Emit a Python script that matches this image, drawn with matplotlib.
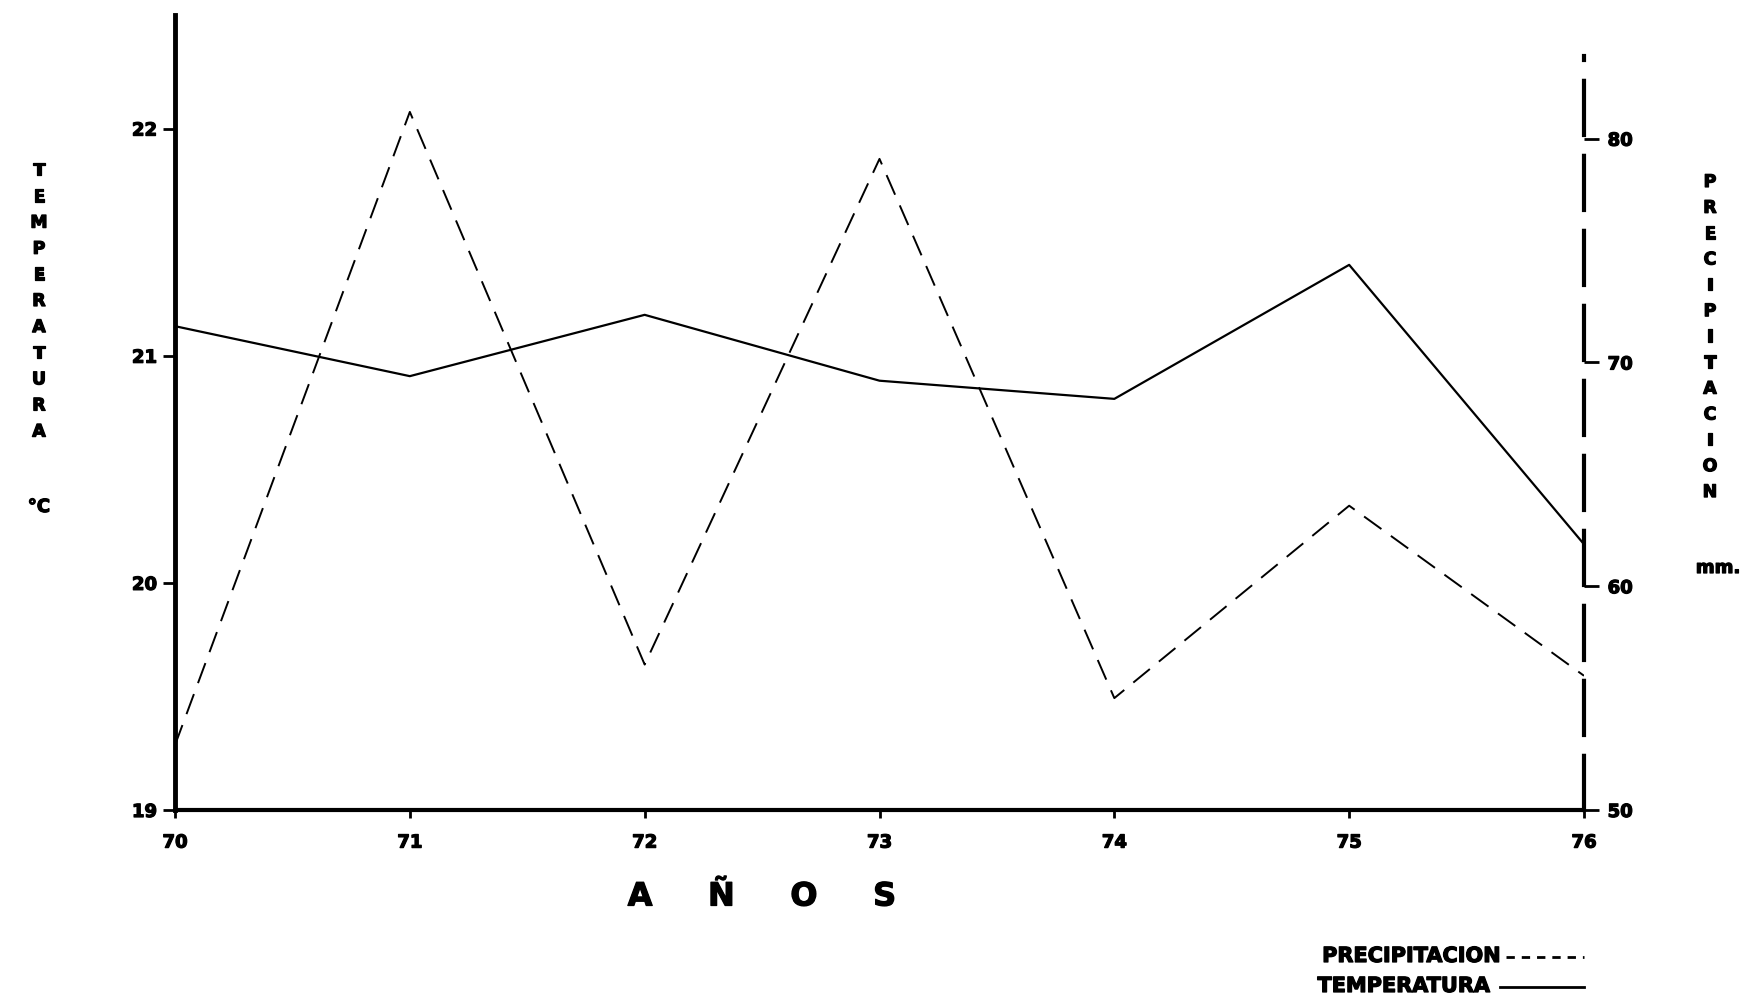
import matplotlib
matplotlib.use("Agg")
import matplotlib.pyplot as plt
import matplotlib.patheffects as pe
from matplotlib.lines import Line2D

# Annual data, 1970-1976
years = [70, 71, 72, 73, 74, 75, 76]
temperatura = [21.13, 20.91, 21.18, 20.89, 20.81, 21.40, 20.17]   # °C
precipitacion = [52.9, 81.2, 56.5, 79.1, 55.0, 63.6, 56.0]       # mm

temp_ticks = [19, 20, 21, 22]
prec_ticks = [50, 60, 70, 80]
year_labels = ["70", "71", "72", "73", "74", "75", "76"]

FONT = "DejaVu Sans"
W, H = 1749, 1003
fig = plt.figure(figsize=(W / 100, H / 100), dpi=100)
fig.patch.set_facecolor("white")

# heavy, slightly blotted lettering
heavy = [pe.withStroke(linewidth=0.9, foreground="black")]


def fx(px):
    return px / W


def fy(py):
    return 1 - py / H


left, right_px, bottom_px, top_px = 175, 1584, 811, 16
ax = fig.add_axes([fx(left), fy(bottom_px), fx(right_px - left), (bottom_px - top_px) / H])
ax2 = ax.twinx()

# Temperature (solid) on the left scale
ax.plot(years, temperatura, color="black", lw=1.6, solid_capstyle="round", zorder=3)
ax.set_xlim(70, 76)
ax.set_ylim(19, 22.5)

# Precipitation (dashed) on the right scale
ax2.plot(years, precipitacion, color="black", lw=1.4, dashes=(11, 6), zorder=3)
ax2.set_ylim(50, 85.53)

for a in (ax, ax2):
    a.patch.set_visible(False)
    a.spines["top"].set_visible(False)

ax.spines["right"].set_visible(False)
ax.spines["left"].set_linewidth(3.5)
ax.spines["bottom"].set_linewidth(3.0)
ax.spines["bottom"].set_capstyle("round")

ax2.spines["left"].set_visible(False)
ax2.spines["bottom"].set_visible(False)
ax2.spines["right"].set_linewidth(3.0)
ax2.spines["right"].set_linestyle((0, (13, 5)))
ax2.spines["right"].set_bounds(50, 83.7)

tick_font = dict(fontfamily=FONT, fontweight="bold", fontsize=13)

ax.set_yticks(temp_ticks)
ax.set_yticklabels([str(t) for t in temp_ticks], **tick_font)
ax.tick_params(axis="y", direction="out", length=9, width=2, pad=4)

ax.set_xticks(years)
ax.set_xticklabels(year_labels, **tick_font)
ax.tick_params(axis="x", direction="out", length=6, width=2, pad=11)

ax2.set_yticks(prec_ticks)
ax2.set_yticklabels([str(t) for t in prec_ticks], **tick_font)
ax2.tick_params(axis="y", direction="out", length=11, width=2, pad=6)

for lab in ax.get_xticklabels() + ax.get_yticklabels() + ax2.get_yticklabels():
    lab.set_path_effects(heavy)

txt = dict(fontfamily=FONT, fontweight="bold", color="black", path_effects=heavy)

# Stacked axis titles
fig.text(fx(39), fy(302), "\n".join("TEMPERATURA"), ha="center", va="center",
         fontsize=12.5, linespacing=1.58, **txt)
fig.text(fx(39), fy(508), "°C", ha="center", va="center", fontsize=13, **txt)
fig.text(fx(1710), fy(338), "\n".join("PRECIPITACION"), ha="center", va="center",
         fontsize=12.5, linespacing=1.56, **txt)
fig.text(fx(1718), fy(569), "mm.", ha="center", va="center", fontsize=13, **txt)

# X-axis title
fig.text(fx(762), fy(898), "A     Ñ     O     S", ha="center", va="center", fontsize=23, **txt)

# Legend
fig.text(fx(1500), fy(957), "PRECIPITACION", ha="right", va="center", fontsize=15, **txt)
fig.text(fx(1490), fy(987), "TEMPERATURA", ha="right", va="center", fontsize=15, **txt)
fig.add_artist(Line2D([fx(1506), fx(1584)], [fy(958), fy(958)], color="black",
                      lw=2.0, dashes=(3, 2.5), transform=fig.transFigure))
fig.add_artist(Line2D([fx(1500), fx(1584)], [fy(988), fy(988)], color="black",
                      lw=2.0, transform=fig.transFigure))

fig.savefig("out.png", dpi=100, facecolor="white")
